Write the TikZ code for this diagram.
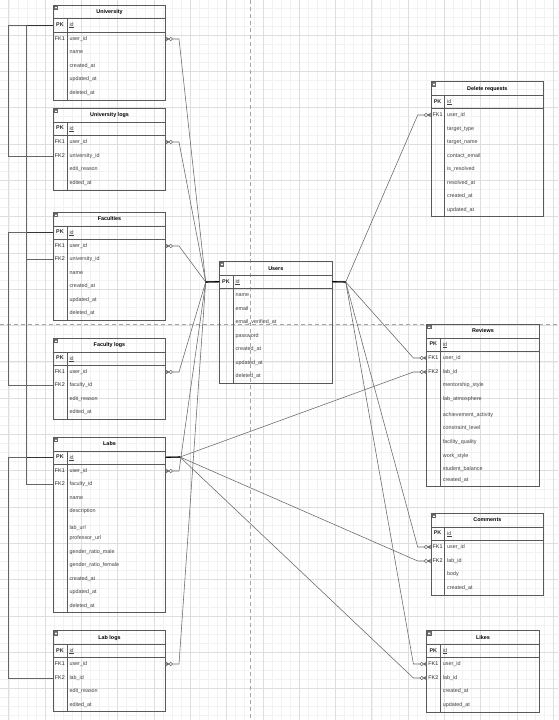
\documentclass[tikz,border=0pt]{standalone}
\usepackage{fontspec}
\setmainfont{Liberation Sans}

\newcommand{\tblfont}{\fontsize{5.4}{6}\selectfont}

% table frame: name, left, top, right, bottom, title
\newcommand{\ertable}[6]{%
  \node[tbox, minimum width=#4-#2, minimum height=#5-#3, anchor=north west] (#1) at (#2,#3) {};
  \draw[tline] (#2,#3+13.5) -- (#4,#3+13.5);
  \draw[tline, line width=1pt] (#2,#3+27) -- (#4,#3+27);
  \draw[tline] (#2+13.5,#3+13.5) -- (#2+13.5,#5);
  \node[ticon] (#1-icon) at (#2+2.6,#3+2.6) {};
  \draw[white, line width=0.4pt] (#2+1.6,#3+2.6) -- (#2+3.6,#3+2.6);
  \node[ttitle] (#1-title) at ({(#2+#4)/2},#3+6.8) {#6};
  \node[tkey, font=\tblfont\bfseries] (#1-pk) at (#2+6.6,#3+20) {PK};
  \node[tfield, text depth=0.6pt] (#1-id) at (#2+16,#3+20) {id};
  \draw[black!75, line width=0.35pt] (#1-id.south west) -- (#1-id.south east);
}
% table rows: name, left, list of y/key/field
\newcommand{\erfields}[3]{%
  \foreach \yy/\kk/\txt [count=\i] in {#3}{
    \node[tkey] (#1-k\i) at (#2+6.6,\yy) {\kk};
    \node[tfield] (#1-f\i) at (#2+16,\yy) {\txt};
  }}

\begin{document}
\begin{tikzpicture}[x=1pt, y=-1pt,
  tbox/.style={draw=black!65, line width=0.6pt, inner sep=0pt, outer sep=0pt},
  tline/.style={draw=black!65, line width=0.6pt},
  ttitle/.style={font=\tblfont\bfseries, inner sep=0pt, text height=4pt, text depth=1pt},
  tkey/.style={font=\tblfont, text=black!85, inner sep=0pt, text height=4pt, text depth=1pt},
  tfield/.style={font=\tblfont, text=black!75, anchor=west, inner sep=0pt, text height=4pt, text depth=1pt},
  ticon/.style={draw=black!60, fill=black!45, minimum size=3.4pt, inner sep=0pt},
  conn/.style={draw=black!60, line width=0.55pt},
  mand/.style={draw=black, line width=1.1pt},
  gridminor/.style={draw=black!5, line width=0.4pt},
  gridmajor/.style={draw=black!13, line width=0.5pt},
  pagebreak/.style={draw=black!35, line width=1pt, dash pattern=on 4pt off 3pt},
  zmany/.pic={
    \draw[conn] (0,-2) -- (3.2,0) -- (0,2) (0,0) -- (3.2,0);
    \draw[conn, fill=white] (5,0) circle (1.8pt);
  },
]
\useasboundingbox (0,0) rectangle (558,720);
\fill[white] (0,0) rectangle (558,720);

% Grid and page breaks
\begin{scope}
\clip (0,0) rectangle (558,720);
\foreach \n in {0,...,62} \draw[gridminor] ({-0.375+\n*9.075},0) -- ({-0.375+\n*9.075},720);
\foreach \n in {1,...,80} \draw[gridminor] (0,{-1.3+\n*9.075}) -- (558,{-1.3+\n*9.075});
\foreach \n in {0,...,15} \draw[gridmajor] ({8.7+\n*36.3},0) -- ({8.7+\n*36.3},720);
\foreach \n in {1,...,20} \draw[gridmajor] (0,{-1.3+\n*36.3}) -- (558,{-1.3+\n*36.3});
\draw[pagebreak] (250.7,0) -- (250.7,720);
\draw[pagebreak] (0,324) -- (558,324);
\end{scope}

% Left column
\ertable{uni}{53.3}{5}{165.7}{100}{University}
\erfields{uni}{53.3}{39/FK1/user\_id, 52//name, 66//created\_at, 79//updated\_at, 93//deleted\_at}

\ertable{unil}{53.3}{108.3}{165.7}{190}{University logs}
\erfields{unil}{53.3}{142/FK1/user\_id, 156/FK2/university\_id, 169//edit\_reason, 183//edited\_at}

\ertable{fac}{53.3}{212.3}{165.7}{320}{Faculties}
\erfields{fac}{53.3}{246/FK1/user\_id, 259/FK2/university\_id, 273//name, 286//created\_at, 300//updated\_at, 313//deleted\_at}

\ertable{facl}{53.3}{338.3}{165.7}{419.3}{Faculty logs}
\erfields{facl}{53.3}{372/FK1/user\_id, 385/FK2/faculty\_id, 399//edit\_reason, 412//edited\_at}

\ertable{lab}{53.3}{437.3}{165.7}{612.7}{Labs}
\erfields{lab}{53.3}{471/FK1/user\_id, 484/FK2/faculty\_id, 498//name, 511//description, 528//lab\_url, 538//professor\_url, 552//gender\_ratio\_male, 565//gender\_ratio\_female, 579//created\_at, 592//updated\_at, 606//deleted\_at}

\ertable{labl}{53.3}{630.7}{165.7}{711.7}{Lab logs}
\erfields{labl}{53.3}{664/FK1/user\_id, 678/FK2/lab\_id, 691//edit\_reason, 705//edited\_at}

% Center: Users
\ertable{usr}{219.3}{261.7}{332.3}{383.3}{Users}
\erfields{usr}{219.3}{295//name, 309//email, 322//email\_verified\_at, 336//password, 349//created\_at, 363//updated\_at, 376//deleted\_at}

% Right column
\ertable{del}{431}{81.7}{543.7}{216.7}{Delete requests}
\erfields{del}{431}{115/FK1/user\_id, 129//target\_type, 142//target\_name, 156//contact\_email, 169//is\_resolved, 183//resolved\_at, 196//created\_at, 210//updated\_at}

\ertable{rev}{426.7}{324.3}{539.3}{486.7}{Reviews}
\erfields{rev}{426.7}{358/FK1/user\_id, 372/FK2/lab\_id, 385//mentorship\_style, 399//lab\_atmosphere, 415//achievement\_activity, 428//constraint\_level, 442//facility\_quality, 456//work\_style, 469//student\_balance, 480//created\_at}

\ertable{com}{431}{513.3}{543.7}{595}{Comments}
\erfields{com}{431}{547/FK1/user\_id, 561/FK2/lab\_id, 574//body, 588//created\_at}

\ertable{lik}{426.7}{630.7}{539.3}{712}{Likes}
\erfields{lik}{426.7}{664/FK1/user\_id, 678/FK2/lab\_id, 691//created\_at, 705//updated\_at}

% Junctions
\coordinate (usrL) at (205.7,282);
\coordinate (usrR) at (345.7,282);
\coordinate (labR) at (180,457);
\coordinate (railA) at (8,0);
\coordinate (railB) at (26.7,0);

% user_id links to Users
\foreach \t in {uni,unil,fac,facl,lab,labl}{
  \draw[conn] (\t.east |- \t-k1) -- ++(13.3,0) -- (usrL) -- (usr.west |- usr-pk);
  \pic at (\t.east |- \t-k1) {zmany};
}
\foreach \t in {del,rev,com,lik}{
  \draw[conn] (\t.west |- \t-k1) -- ++(-13.3,0) -- (usrR) -- (usr.east |- usr-pk);
  \pic[rotate=180] at (\t.west |- \t-k1) {zmany};
}
\draw[mand] (usr.west |- usr-pk) -- (usrL);
\draw[mand] (usr.east |- usr-pk) -- (usrR);

% lab_id links to Labs
\foreach \t in {rev,com,lik}{
  \draw[conn] (\t.west |- \t-k2) -- ++(-13.3,0) -- (labR) -- (lab.east |- lab-pk);
  \pic[rotate=180] at (\t.west |- \t-k2) {zmany};
}
\draw[mand] (lab.east |- lab-pk) -- (labR);

% Parent links on the left rails
\draw[conn] (uni.west |- uni-pk) -- (railA |- uni-pk) -- (railA |- unil-k2) -- (unil.west |- unil-k2);
\draw[conn] (uni.west |- uni-pk) -- (railB |- uni-pk) -- (railB |- fac-k2) -- (fac.west |- fac-k2);
\draw[conn] (fac.west |- fac-pk) -- (railA |- fac-pk) -- (railA |- facl-k2) -- (facl.west |- facl-k2);
\draw[conn] (fac.west |- fac-pk) -- (railB |- fac-pk) -- (railB |- lab-k2) -- (lab.west |- lab-k2);
\draw[conn] (lab.west |- lab-pk) -- (railA |- lab-pk) -- (railA |- labl-k2) -- (labl.west |- labl-k2);
\foreach \t in {uni,fac,lab}
  \draw[conn, line width=0.9pt, black!80] (\t.west |- \t-pk) -- (railB |- \t-pk);

\end{tikzpicture}
\end{document}
